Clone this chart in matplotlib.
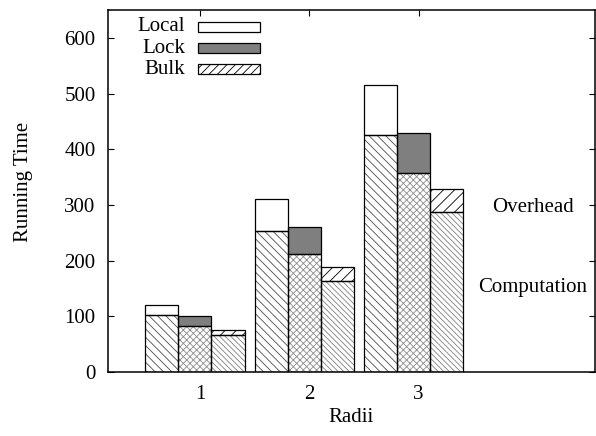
import numpy as np
import matplotlib
matplotlib.use("Agg")
from matplotlib import pyplot as plt
from matplotlib.patches import Rectangle

plt.rcParams["font.family"] = ["Liberation Serif", "DejaVu Serif"]
plt.rcParams["font.size"] = 15
plt.rcParams["hatch.linewidth"] = 0.6

radii = ["1", "2", "3"]
methods = ["Local", "Lock", "Bulk"]
computation = {
    "Local": [102, 253, 426],
    "Lock": [82, 211, 358],
    "Bulk": [66, 164, 287],
}
overhead = {
    "Local": [19, 57, 90],
    "Lock": [18, 49, 72],
    "Bulk": [9, 24, 41],
}

# look of each part
comp_hatch = {"Local": "\\" * 4, "Lock": "x" * 5, "Bulk": "\\" * 6}
comp_hcolor = {"Local": "0.3", "Lock": "0.55", "Bulk": "0.5"}
over_face = {"Local": "white", "Lock": "#7f7f7f", "Bulk": "white"}
over_hatch = {"Local": None, "Lock": None, "Bulk": "///"}

fig = plt.figure(figsize=(5.96, 4.36), dpi=100)
ax = fig.add_axes([108 / 596, 64 / 436, 487 / 596, 362 / 436])

x = np.arange(len(radii))
w = 0.302
offsets = [-w, 0, w]


def draw_bar(xs, bottom, height, face, hatch, hcolor):
    # hatch layer first, then a clean black outline on top
    ax.bar(xs, height, w, bottom=bottom, color=face, hatch=hatch,
           edgecolor=hcolor, linewidth=0, zorder=2)
    ax.bar(xs, height, w, bottom=bottom, fill=False,
           edgecolor="black", linewidth=0.9, zorder=3)


for m, off in zip(methods, offsets):
    comp = np.array(computation[m])
    over = np.array(overhead[m])
    draw_bar(x + off, 0, comp, "white", comp_hatch[m], comp_hcolor[m])
    draw_bar(x + off, comp, over, over_face[m], over_hatch[m], "black")

ax.set_xlim(-0.796, 3.66)
ax.set_ylim(0, 650)
ax.set_yticks([0, 100, 200, 300, 400, 500, 600])
ax.set_xticks(x + 0.046)
ax.set_xticklabels(radii)
ax.tick_params(direction="in", length=4, width=0.8, top=True, right=True, pad=9)
for s in ax.spines.values():
    s.set_linewidth(1.1)
    s.set_zorder(4)

ax.set_ylabel("Running Time")
ax.set_xlabel("Radii")
ax.yaxis.set_label_coords(-0.154, 0.525)
ax.xaxis.set_label_coords(0.499, -0.099)

ax.text(3.09, 296, "Overhead", ha="center", va="center")
ax.text(3.09, 151, "Computation", ha="center", va="center")

# key, drawn like the gnuplot one: text right-aligned, box after it
key_y = [0.954, 0.895, 0.837]
for m, ky in zip(methods, key_y):
    ax.text(0.158, ky, m, transform=ax.transAxes, ha="right", va="center")
    hatch = "////" if over_hatch[m] else None
    ax.add_patch(Rectangle((0.1849, ky - 0.0138), 0.127, 0.0276, transform=ax.transAxes,
                           facecolor=over_face[m], hatch=hatch, edgecolor="black",
                           linewidth=0.9, zorder=5))

fig.savefig("out.png", dpi=100)
